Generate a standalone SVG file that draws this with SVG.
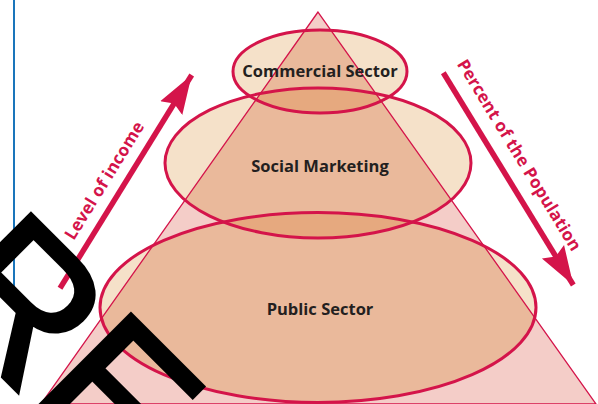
<svg xmlns="http://www.w3.org/2000/svg" width="598" height="404" viewBox="0 0 598 404">
  <style>
    .beige { fill: #f5e1c9; }
    .orange { fill: #eab99b; }
    .dark { fill: #e6a97f; }
    .outline { fill: none; stroke: #d4144a; stroke-width: 3; }
    .lbl { font-family: "Open Sans", "Liberation Sans", sans-serif; font-weight: 700; font-size: 16.5px; fill: #231f20; text-anchor: middle; }
    .axis { font-family: "Open Sans", "Liberation Sans", sans-serif; font-weight: 700; font-size: 17px; fill: #d4144a; text-anchor: middle; }
    .shaft { stroke: #d4144a; stroke-width: 5.5; fill: none; }
  </style>
  <defs>
    <clipPath id="triClip"><polygon points="318,12 41,404 596,404"/></clipPath>
    <clipPath id="midClip"><ellipse cx="318" cy="163" rx="153" ry="75"/></clipPath>
    <clipPath id="botClip"><ellipse cx="318" cy="307.5" rx="218" ry="95"/></clipPath>
    <marker id="head" markerUnits="userSpaceOnUse" markerWidth="40" markerHeight="30" viewBox="0 -13 37 26" refX="36" refY="0" orient="auto">
      <path d="M0,-12 L36,0 L0,12 L5,0 Z" fill="#d4144a"/>
    </marker>
  </defs>

  <rect width="598" height="404" fill="#ffffff"/>
  <line x1="14" y1="0" x2="14" y2="293" stroke="#1a75bb" stroke-width="2"/>

  <g id="fills">
    <ellipse class="beige" cx="318" cy="307.5" rx="218" ry="95"/>
    <ellipse class="beige" cx="318" cy="163" rx="153" ry="75"/>
    <ellipse class="beige" cx="320" cy="71.5" rx="87" ry="41.5"/>
    <polygon points="318,12 41,404 596,404" fill="#f4cdc8"/>
    <g clip-path="url(#triClip)">
      <ellipse class="orange" cx="318" cy="307.5" rx="218" ry="95"/>
      <ellipse class="orange" cx="318" cy="163" rx="153" ry="75"/>
      <ellipse class="orange" cx="320" cy="71.5" rx="87" ry="41.5"/>
      <ellipse class="dark" cx="320" cy="71.5" rx="87" ry="41.5" clip-path="url(#midClip)"/>
      <ellipse class="dark" cx="318" cy="163" rx="153" ry="75" clip-path="url(#botClip)"/>
    </g>
    <polygon points="318,12 41,404 596,404" fill="none" stroke="#d4144a" stroke-width="1.3"/>
  </g>

  <g id="public-sector">
    <ellipse class="outline" cx="318" cy="307.5" rx="218" ry="95"/>
    <text class="lbl" x="320" y="315">Public Sector</text>
  </g>
  <g id="social-marketing">
    <ellipse class="outline" cx="318" cy="163" rx="153" ry="75"/>
    <text class="lbl" x="320" y="172">Social Marketing</text>
  </g>
  <g id="commercial-sector">
    <ellipse class="outline" cx="320" cy="71.5" rx="87" ry="41.5"/>
    <text class="lbl" x="320" y="77">Commercial Sector</text>
  </g>

  <g id="connectors">
    <line class="shaft" x1="60" y1="288.3" x2="191.7" y2="75" marker-end="url(#head)"/>
    <line class="shaft" x1="443.3" y1="72.7" x2="573.3" y2="285" marker-end="url(#head)"/>
    <text class="axis" transform="translate(109.3,183.6) rotate(-58.3)" x="0" y="0" textLength="135" lengthAdjust="spacing">Level of income</text>
    <text class="axis" transform="translate(514.3,158.1) rotate(58.5)" x="0" y="0" textLength="221" lengthAdjust="spacing">Percent of the Population</text>
  </g>

  <text transform="translate(-75.8,298.1) rotate(45)" x="0" y="0" font-family="Liberation Sans, sans-serif" font-size="196" fill="#000000" stroke="#000000" stroke-width="4">RE</text>
</svg>
